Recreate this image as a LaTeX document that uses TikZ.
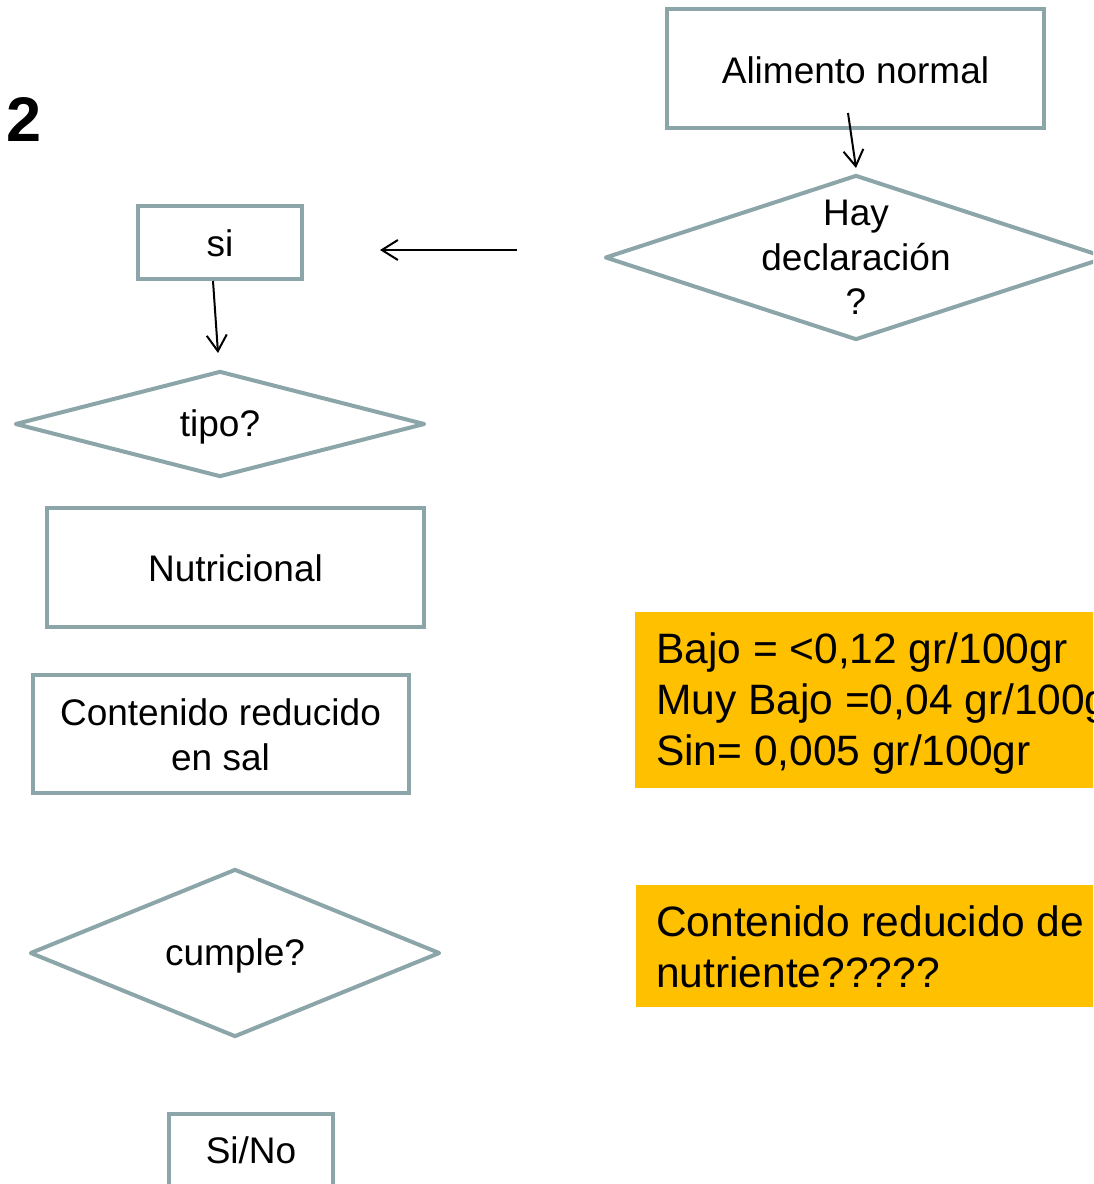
\documentclass[tikz,border=0pt]{standalone}
\usepackage{fontspec}
\setmainfont{Liberation Sans}
\usetikzlibrary{shapes.geometric,arrows.meta}
\definecolor{edge}{RGB}{139,165,168}
\definecolor{note}{RGB}{255,192,0}
\tikzset{
  box/.style={draw=edge, line width=4pt, rectangle, inner sep=0pt},
  dia/.style={draw=edge, line width=4pt, diamond, inner sep=0pt, line join=round},
  txt/.style={inner sep=0pt, align=center, font=\fontsize{37}{44.5}\selectfont},
  notebox/.style={fill=note, rectangle, inner sep=0pt},
  notetxt/.style={inner sep=0pt, align=left, font=\fontsize{42.5}{51}\selectfont},
  arr/.style={draw=black, line width=2pt, -{Straight Barb[length=16pt,width=20pt,line width=2pt]}}
}
\begin{document}
\begin{tikzpicture}[x=1pt,y=-1pt]
\useasboundingbox (0,0) rectangle (1093,1184);
\clip (0,0) rectangle (1093,1184);
% title
\node[inner sep=0pt, font=\fontsize{63}{63}\selectfont\bfseries] (num) at (24,120) {2};
% right column
\node[box, minimum width=377pt, minimum height=119pt] (alim) at (855.5,68.5) {};
\node[txt] (alimt) at ([shift={(0,2)}]alim.center) {Alimento normal};
\node[dia, minimum width=502pt, minimum height=165pt] (hay) at (856,257.5) {};
\node[txt] (hayt) at (hay.center) {Hay\\declaración\\?};
% left column
\node[box, minimum width=164pt, minimum height=73pt] (si) at (220,242.5) {};
\node[txt] (sit) at ([shift={(0,1)}]si.center) {si};
\node[dia, minimum width=410pt, minimum height=106pt] (tipo) at (220,424) {};
\node[txt] (tipot) at ([shift={(0,3)}]tipo.center) {tipo?};
\node[box, minimum width=377pt, minimum height=119pt] (nutr) at (235.5,567.5) {};
\node[txt] (nutrt) at ([shift={(0,1)}]nutr.center) {Nutricional};
\node[box, minimum width=376pt, minimum height=118pt] (sal) at (220.5,734) {};
\node[txt] (salt) at ([shift={(0,1)}]sal.center) {Contenido reducido\\en sal};
\node[dia, minimum width=410pt, minimum height=168pt] (cump) at (235,953) {};
\node[txt] (cumpt) at ([shift={(0,3)}]cump.center) {cumple?};
\node[box, minimum width=164pt, minimum height=73pt] (sino) at (251,1150) {};
\node[txt] (sinot) at (sino.center) {Si/No};
% notes
\node[notebox, anchor=north west, minimum width=480pt, minimum height=176pt] (n1) at (635,612) {};
\node[notetxt, anchor=west] (n1t) at (656,704) {Bajo = <0,12 gr/100gr\\Muy Bajo =0,04 gr/100gr\\Sin= 0,005 gr/100gr};
\node[notebox, anchor=north west, minimum width=480pt, minimum height=122pt] (n2) at (636,885) {};
\node[notetxt, anchor=west] (n2t) at (656,947) {Contenido reducido de\\nutriente?????};
% connectors
\draw[arr] ([shift={(-7.5,-17)}]alim.south) -- ([shift={(0,-5)}]hay.north);
\coordinate (hfrom) at (517,250);
\coordinate (hto) at (380,250);
\draw[arr] (hfrom) -- (hto);
\draw[arr] ([shift={(-7,0)}]si.south) -- ([shift={(-2,-16)}]tipo.north);
\end{tikzpicture}
\end{document}
